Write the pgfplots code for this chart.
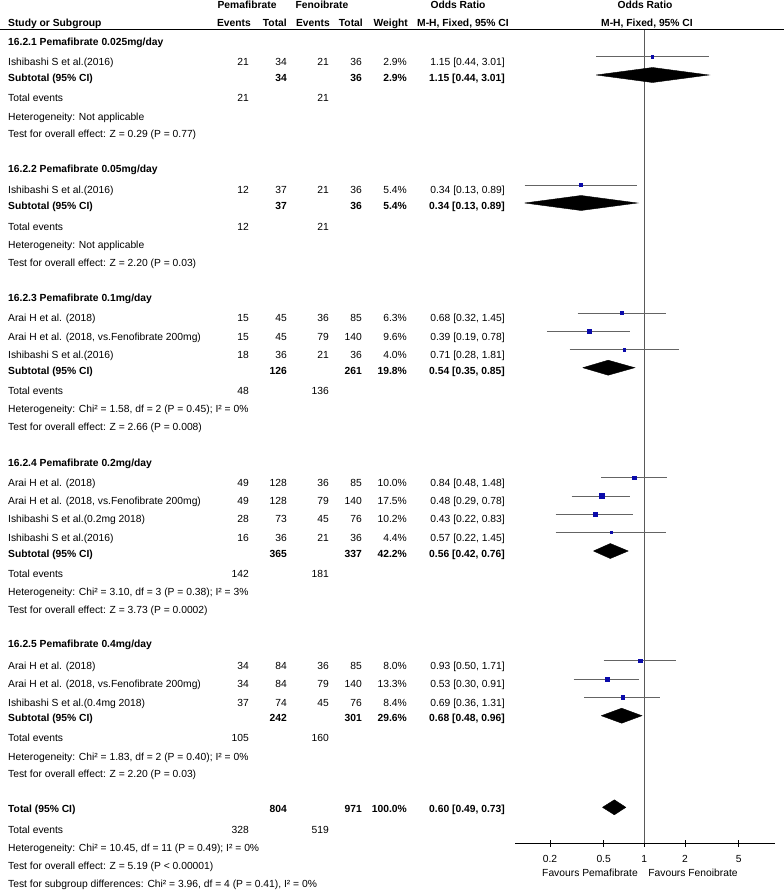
\documentclass[border=0pt]{standalone}
\usepackage{pgfplots}
\pgfplotsset{compat=1.18}
\usepackage{fontspec}
\setmainfont{Liberation Sans}
\definecolor{sqblue}{RGB}{10,10,170}
\definecolor{cigray}{RGB}{100,100,100}
\newcommand{\fs}{\fontsize{10.3bp}{12bp}\selectfont}
\newcommand{\Lt}[2]{\node[anchor=base west,inner sep=0pt] at (axis cs:8,{-(#1)-3.6}) {#2};}
\newcommand{\Rt}[3]{\node[anchor=base east,inner sep=0pt] at (axis cs:#1,{-(#2)-3.6}) {#3};}
\newcommand{\Ct}[3]{\node[anchor=base,inner sep=0pt] at (axis cs:#1,{-(#2)-3.6}) {#3};}
\newcommand{\Study}[8]{\Lt{#1}{#2}\Rt{249}{#1}{#3}\Rt{287}{#1}{#4}\Rt{329}{#1}{#5}\Rt{362}{#1}{#6}\Rt{407}{#1}{#7}\Rt{505}{#1}{#8}}
\newcommand{\Sub}[6]{\Lt{#1}{\bfseries #2}\Rt{287}{#1}{\bfseries #3}\Rt{362}{#1}{\bfseries #4}\Rt{407}{#1}{\bfseries #5}\Rt{505}{#1}{\bfseries #6}}
\newcommand{\TE}[3]{\Lt{#1}{Total events}\Rt{249}{#1}{#2}\Rt{329}{#1}{#3}}
\newcommand{\CI}[5]{\addplot[cigray, line width=0.9bp] coordinates {(#2,-#1) (#3,-#1)};
  \addplot[only marks, mark=square*, sqblue, mark size=#5bp] coordinates {(#4,-#1)};}
\newcommand{\Dia}[4]{\addplot[black, fill=black, line width=0.4bp] coordinates {(#2,-#1) (#3,{-#1+7.5}) (#4,-#1) (#3,{-#1-7.5}) (#2,-#1)};}
\begin{document}
\begin{tikzpicture}[font=\fs]
\begin{axis}[at={(0,0)}, anchor=north west, width=784bp, height=890bp, scale only axis,
  xmin=0, xmax=784, ymin=-890, ymax=0, hide axis, clip=false]
\addplot[black, line width=1bp] coordinates {(0,-29.5) (784,-29.5)};
% headers
\Ct{247}{4.7}{\bfseries Pemafibrate}
\Ct{322}{4.7}{\bfseries Fenoibrate}
\Ct{458}{4.7}{\bfseries Odds Ratio}
\Ct{645}{4.7}{\bfseries Odds Ratio}
\Lt{22.7}{\bfseries Study or Subgroup}
\Rt{251}{22.7}{\bfseries Events}
\Rt{287}{22.7}{\bfseries Total}
\Rt{330}{22.7}{\bfseries Events}
\Rt{363}{22.7}{\bfseries Total}
\Rt{408}{22.7}{\bfseries Weight}
\Ct{463}{22.7}{\bfseries M-H, Fixed, 95\% CI}
\Ct{647}{22.7}{\bfseries M-H, Fixed, 95\% CI}
% group 1
\Lt{41.7}{\bfseries 16.2.1 Pemafibrate 0.025mg/day}
\Study{61.7}{Ishibashi S et al.(2016)}{21}{34}{21}{36}{2.9\%}{1.15 [0.44, 3.01]}
\Sub{78.3}{Subtotal (95\% CI)}{34}{36}{2.9\%}{1.15 [0.44, 3.01]}
\TE{98.3}{21}{21}
\Lt{116.7}{Heterogeneity: Not applicable}
\Lt{134.3}{Test for overall effect: Z = 0.29 (P = 0.77)}
% group 2
\Lt{169.3}{\bfseries 16.2.2 Pemafibrate 0.05mg/day}
\Study{190}{Ishibashi S et al.(2016)}{12}{37}{21}{36}{5.4\%}{0.34 [0.13, 0.89]}
\Sub{206}{Subtotal (95\% CI)}{37}{36}{5.4\%}{0.34 [0.13, 0.89]}
\TE{226.7}{12}{21}
\Lt{245}{Heterogeneity: Not applicable}
\Lt{262.7}{Test for overall effect: Z = 2.20 (P = 0.03)}
% group 3
\Lt{297.5}{\bfseries 16.2.3 Pemafibrate 0.1mg/day}
\Study{318.3}{Arai H et al. (2018)}{15}{45}{36}{85}{6.3\%}{0.68 [0.32, 1.45]}
\Study{336.7}{Arai H et al. (2018, vs.Fenofibrate 200mg)}{15}{45}{79}{140}{9.6\%}{0.39 [0.19, 0.78]}
\Study{355}{Ishibashi S et al.(2016)}{18}{36}{21}{36}{4.0\%}{0.71 [0.28, 1.81]}
\Sub{371}{Subtotal (95\% CI)}{126}{261}{19.8\%}{0.54 [0.35, 0.85]}
\TE{391}{48}{136}
\Lt{409.3}{Heterogeneity: Chi² = 1.58, df = 2 (P = 0.45); I² = 0\%}
\Lt{427}{Test for overall effect: Z = 2.66 (P = 0.008)}
% group 4
\Lt{462.7}{\bfseries 16.2.4 Pemafibrate 0.2mg/day}
\Study{482.7}{Arai H et al. (2018)}{49}{128}{36}{85}{10.0\%}{0.84 [0.48, 1.48]}
\Study{501}{Arai H et al. (2018, vs.Fenofibrate 200mg)}{49}{128}{79}{140}{17.5\%}{0.48 [0.29, 0.78]}
\Study{519.3}{Ishibashi S et al.(0.2mg 2018)}{28}{73}{45}{76}{10.2\%}{0.43 [0.22, 0.83]}
\Study{537.7}{Ishibashi S et al.(2016)}{16}{36}{21}{36}{4.4\%}{0.57 [0.22, 1.45]}
\Sub{554.3}{Subtotal (95\% CI)}{365}{337}{42.2\%}{0.56 [0.42, 0.76]}
\TE{574.3}{142}{181}
\Lt{592}{Heterogeneity: Chi² = 3.10, df = 3 (P = 0.38); I² = 3\%}
\Lt{609.5}{Test for overall effect: Z = 3.73 (P = 0.0002)}
% group 5
\Lt{644.3}{\bfseries 16.2.5 Pemafibrate 0.4mg/day}
\Study{666}{Arai H et al. (2018)}{34}{84}{36}{85}{8.0\%}{0.93 [0.50, 1.71]}
\Study{684.3}{Arai H et al. (2018, vs.Fenofibrate 200mg)}{34}{84}{79}{140}{13.3\%}{0.53 [0.30, 0.91]}
\Study{702.7}{Ishibashi S et al.(0.4mg 2018)}{37}{74}{45}{76}{8.4\%}{0.69 [0.36, 1.31]}
\Sub{717.7}{Subtotal (95\% CI)}{242}{301}{29.6\%}{0.68 [0.48, 0.96]}
\TE{738.3}{105}{160}
\Lt{756.7}{Heterogeneity: Chi² = 1.83, df = 2 (P = 0.40); I² = 0\%}
\Lt{774.3}{Test for overall effect: Z = 2.20 (P = 0.03)}
% total
\Sub{809.3}{Total (95\% CI)}{804}{971}{100.0\%}{0.60 [0.49, 0.73]}
\TE{830}{328}{519}
\Lt{847.7}{Heterogeneity: Chi² = 10.45, df = 11 (P = 0.49); I² = 0\%}
\Lt{866}{Test for overall effect: Z = 5.19 (P < 0.00001)}
\Lt{884.3}{Test for subgroup differences: Chi² = 3.96, df = 4 (P = 0.41), I² = 0\%}
% axis captions
\Ct{590}{873}{Favours Pemafibrate}
\Ct{693}{873}{Favours Fenoibrate}
\end{axis}
\begin{axis}[at={(515bp,-30bp)}, anchor=north west, width=260bp, height=813bp, scale only axis,
  xmode=log, xmin=0.1102, xmax=9.29, ymin=-843, ymax=-30, clip=false,
  axis x line*=bottom, axis y line=none,
  x axis line style={black, line width=0.8bp, -},
  xtick={0.2,0.5,1,2,5}, xticklabels={0.2,0.5,1,2,5}, minor xtick={},
  tick align=center, major tick length=7bp,
  every tick/.style={black, line width=0.8bp},
  xticklabel style={font=\fs, text=black, yshift=-5bp},
  /pgf/number format/assume math mode=true]
\addplot[black!65, line width=0.8bp] coordinates {(1,-30) (1,-843)};
\CI{56.7}{0.44}{3.01}{1.15}{1.02}
\Dia{75}{0.44}{1.15}{3.01}
\CI{185}{0.13}{0.89}{0.34}{1.39}
\Dia{203}{0.13}{0.34}{0.89}
\CI{313}{0.32}{1.45}{0.68}{1.51}
\CI{331.3}{0.19}{0.78}{0.39}{1.86}
\CI{349.7}{0.28}{1.81}{0.71}{1.2}
\Dia{367.7}{0.35}{0.54}{0.85}
\CI{477.7}{0.48}{1.48}{0.84}{1.9}
\CI{496}{0.29}{0.78}{0.48}{2.51}
\CI{514.3}{0.22}{0.83}{0.43}{1.92}
\CI{532.3}{0.22}{1.45}{0.57}{1.26}
\Dia{551}{0.42}{0.56}{0.76}
\CI{660.7}{0.50}{1.71}{0.93}{1.70}
\CI{679}{0.30}{0.91}{0.53}{2.19}
\CI{697.3}{0.36}{1.31}{0.69}{1.74}
\Dia{715.7}{0.48}{0.68}{0.96}
\Dia{807.3}{0.49}{0.60}{0.73}
\end{axis}
\pgfresetboundingbox
\path[use as bounding box] (0,0) rectangle (784bp,-890bp);
\end{tikzpicture}
\end{document}
